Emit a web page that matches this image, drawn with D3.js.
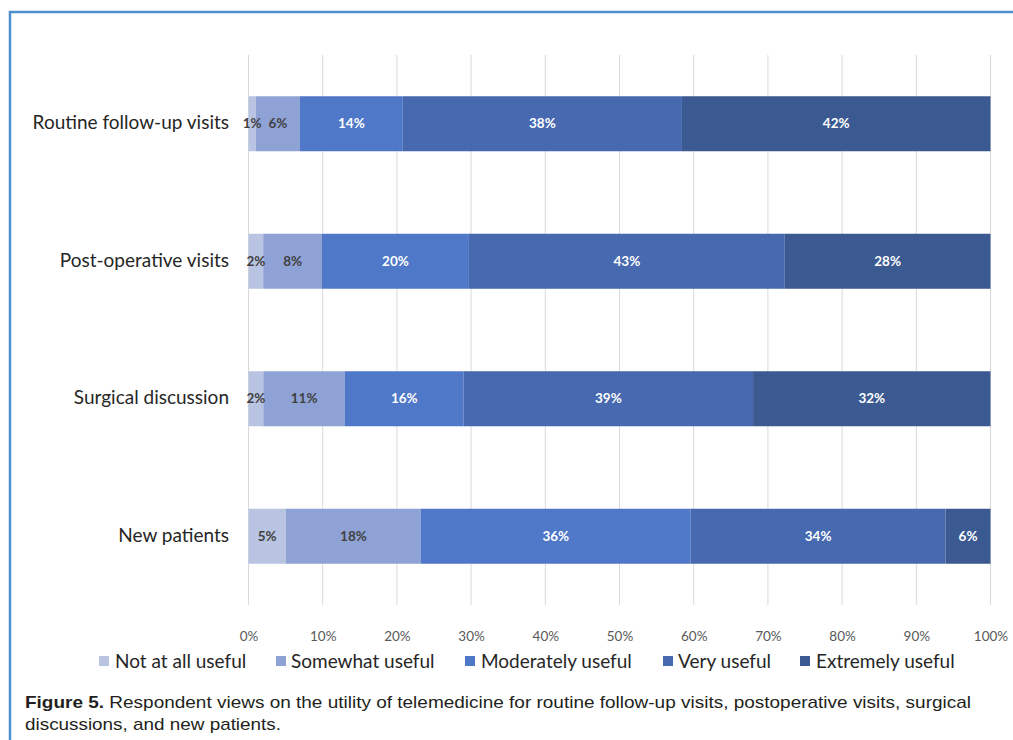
<!DOCTYPE html>
<html>
<head>
<meta charset="utf-8">
<script src="https://cdn.jsdelivr.net/npm/d3@7"></script>
<style>
  html, body { margin: 0; padding: 0; background: #ffffff; }
  svg { display: block; }
</style>
</head>
<body>
<svg id="chart" width="1013" height="740"></svg>
<script>
// Survey categories (top to bottom) and response levels
const categories = ["Routine follow-up visits", "Post-operative visits", "Surgical discussion", "New patients"];
const levels = ["Not at all useful", "Somewhat useful", "Moderately useful", "Very useful", "Extremely useful"];

// Percent of respondents per level, one array per level, ordered as categories
const notAtAll   = [1, 2, 2, 5];
const somewhat   = [6, 8, 11, 18];
const moderately = [14, 20, 16, 36];
const very       = [38, 43, 39, 34];
const extremely  = [42, 28, 32, 6];

const xTicks = [0, 0.1, 0.2, 0.3, 0.4, 0.5, 0.6, 0.7, 0.8, 0.9, 1.0];
const colors = ["#b9c4e3", "#8fa2d6", "#5078c8", "#4669b0", "#3c5a92"];
const labelColors = ["#404040", "#404040", "#ffffff", "#ffffff", "#ffffff"];

const seriesValues = [notAtAll, somewhat, moderately, very, extremely];
const rows = categories.map((c, i) => {
  const r = { category: c };
  levels.forEach((l, j) => { r[l] = seriesValues[j][i]; });
  return r;
});

const svg = d3.select("#chart");
const font = "Lato, 'Open Sans', 'DejaVu Sans', sans-serif";

// Figure frame
svg.append("path")
  .attr("d", "M10,740 L10,12 L1013,12")
  .attr("fill", "none")
  .attr("stroke", "#4f8fd0")
  .attr("stroke-width", 2.5);

const plot = { left: 248.5, right: 990.5, top: 55, bottom: 605 };

const x = d3.scaleLinear().domain([0, 1]).range([plot.left, plot.right]);
const y = d3.scaleBand().domain(categories).range([plot.top, plot.bottom]).paddingInner(0.6).paddingOuter(0.3);

// Vertical gridlines
svg.append("g")
  .selectAll("line")
  .data(xTicks)
  .join("line")
  .attr("x1", d => x(d)).attr("x2", d => x(d))
  .attr("y1", plot.top).attr("y2", plot.bottom)
  .attr("stroke", "#d9d9d9")
  .attr("stroke-width", 1);

// X axis tick labels
const xAxis = d3.axisBottom(x).tickValues(xTicks).tickFormat(d3.format(".0%")).tickSize(0).tickPadding(0);
const gx = svg.append("g").attr("transform", `translate(0,${plot.bottom + 26})`).call(xAxis);
gx.select(".domain").remove();
gx.selectAll("text")
  .attr("font-family", font)
  .attr("font-size", 13.5)
  .attr("fill", "#595959");

// Category labels
const yAxis = d3.axisLeft(y).tickSize(0).tickPadding(0);
const gy = svg.append("g").attr("transform", `translate(229,0)`).call(yAxis);
gy.select(".domain").remove();
gy.selectAll("text")
  .attr("font-family", font)
  .attr("font-size", 19)
  .attr("fill", "#262626")
  .attr("dy", "0.3em");

// 100% stacked bars
const stack = d3.stack().keys(levels).offset(d3.stackOffsetExpand);
const stacked = stack(rows);

const layers = svg.append("g")
  .selectAll("g")
  .data(stacked)
  .join("g")
  .attr("fill", (d, i) => colors[i]);

layers.selectAll("rect")
  .data(d => d)
  .join("rect")
  .attr("x", d => x(d[0]))
  .attr("width", d => x(d[1]) - x(d[0]))
  .attr("y", d => y(d.data.category))
  .attr("height", y.bandwidth());

// Segment value labels
const labelLayers = svg.append("g")
  .selectAll("g")
  .data(stacked)
  .join("g");

labelLayers.each(function(layer, li) {
  d3.select(this).selectAll("text")
    .data(layer)
    .join("text")
    .attr("x", d => (x(d[0]) + x(d[1])) / 2)
    .attr("y", d => y(d.data.category) + y.bandwidth() / 2)
    .attr("dy", "0.35em")
    .attr("text-anchor", "middle")
    .attr("font-family", font)
    .attr("font-size", 13.5)
    .attr("font-weight", 700)
    .attr("fill", labelColors[li])
    .text(d => d.data[layer.key] + "%");
});

// Legend
const legendItems = [
  { sx: 99, tx: 115 },
  { sx: 276, tx: 291 },
  { sx: 465, tx: 481 },
  { sx: 663, tx: 678 },
  { sx: 800, tx: 816 }
];
const legend = svg.append("g")
  .selectAll("g")
  .data(levels)
  .join("g");
legend.append("rect")
  .attr("x", (d, i) => legendItems[i].sx)
  .attr("y", 656)
  .attr("width", 10).attr("height", 10)
  .attr("fill", (d, i) => colors[i]);
legend.append("text")
  .attr("x", (d, i) => legendItems[i].tx)
  .attr("y", 661)
  .attr("dy", "0.35em")
  .attr("font-family", font)
  .attr("font-size", 19)
  .attr("fill", "#262626")
  .text(d => d);

// Caption
const capFont = "'Liberation Sans Narrow', 'Liberation Sans', Arial, sans-serif";
const cap1 = svg.append("text")
  .attr("x", 25).attr("y", 708)
  .attr("font-family", capFont)
  .attr("font-size", 17)
  .attr("fill", "#231f20")
  .attr("textLength", 946)
  .attr("lengthAdjust", "spacingAndGlyphs");
cap1.append("tspan").attr("font-weight", 700).text("Figure 5.");
cap1.append("tspan").text("  Respondent views on the utility of telemedicine for routine follow-up visits, postoperative visits, surgical");
svg.append("text")
  .attr("x", 25).attr("y", 730)
  .attr("font-family", capFont)
  .attr("font-size", 17)
  .attr("fill", "#231f20")
  .attr("textLength", 256)
  .attr("lengthAdjust", "spacingAndGlyphs")
  .text("discussions, and new patients.");
</script>
</body>
</html>
